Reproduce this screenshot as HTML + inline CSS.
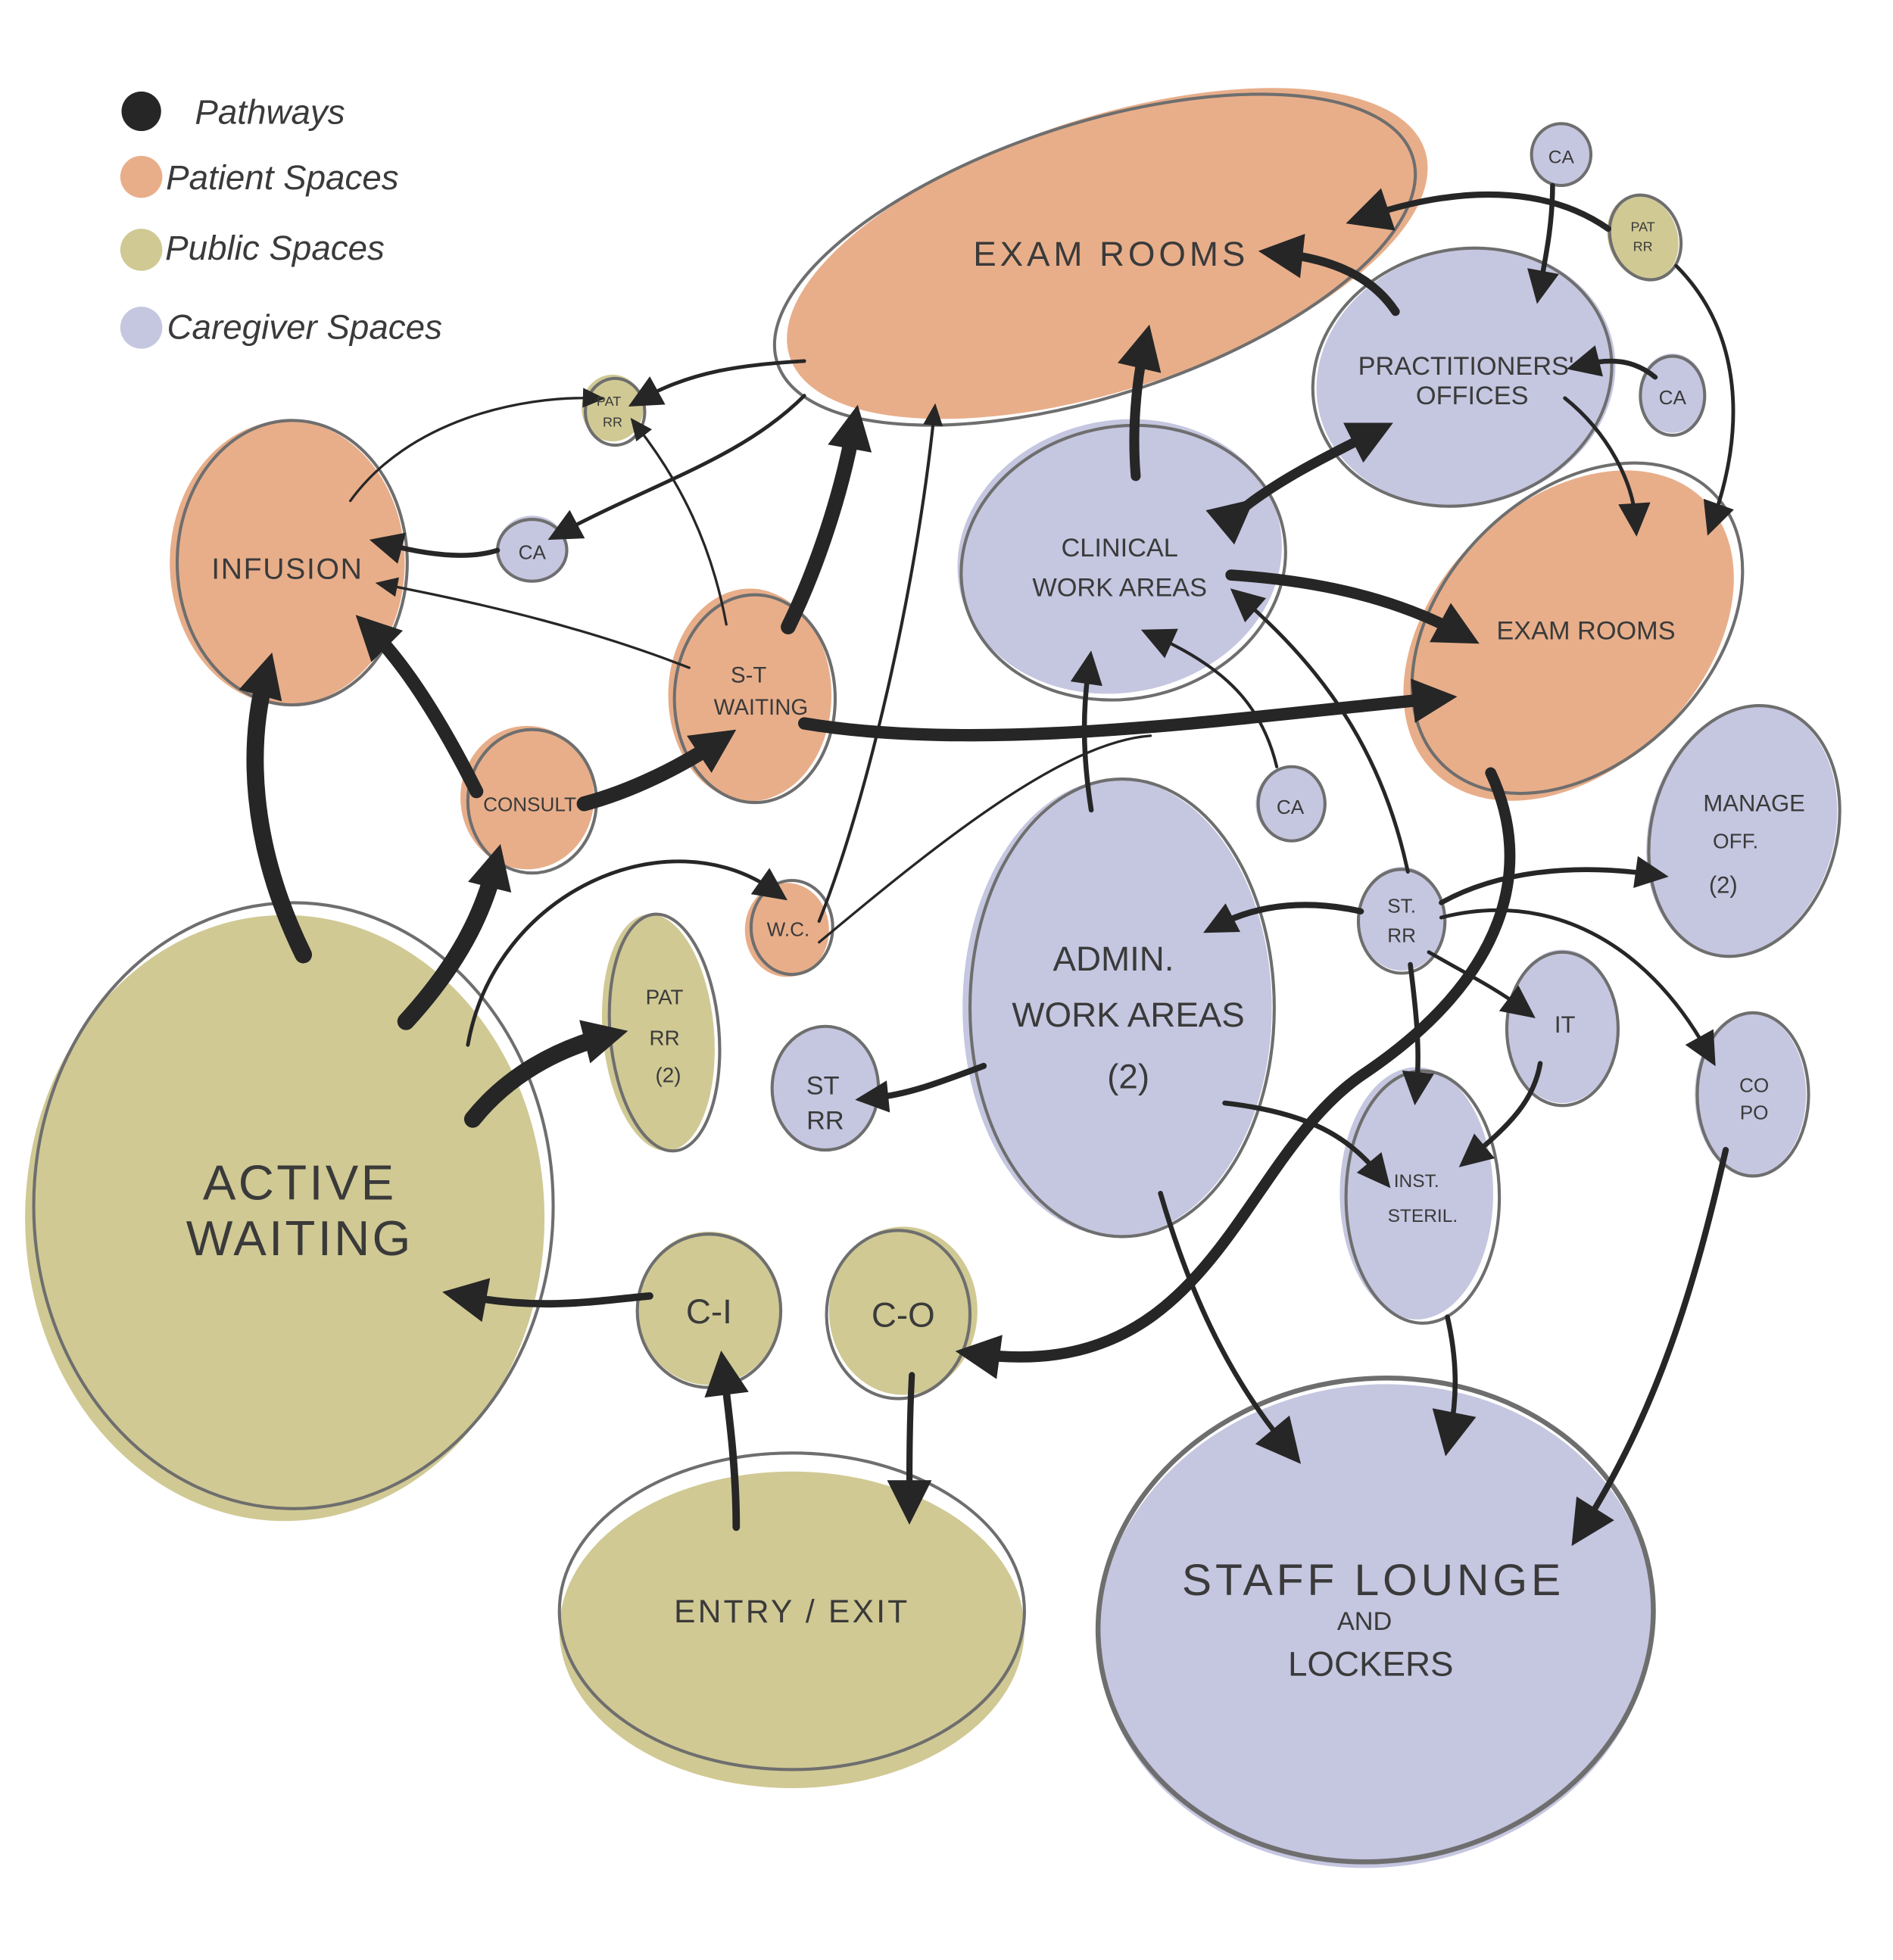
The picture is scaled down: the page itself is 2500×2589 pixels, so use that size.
<!DOCTYPE html>
<html><head><meta charset="utf-8"><style>
html,body{margin:0;padding:0;background:#fff;}
svg{display:block;}
text{font-family:"Liberation Sans",sans-serif;fill:#3a3a3a;text-anchor:middle;font-weight:300;}
</style></head><body>
<svg width="2500" height="2589" viewBox="0 0 1530 1585" xmlns="http://www.w3.org/2000/svg">
<defs>
<marker id="b" markerUnits="userSpaceOnUse" markerWidth="44" markerHeight="44" refX="22" refY="22" orient="auto"><path d="M4,4 L40,22 L4,40 Z" fill="#262626"/></marker>
<marker id="m" markerUnits="userSpaceOnUse" markerWidth="32" markerHeight="32" refX="16" refY="16" orient="auto"><path d="M3,3 L30,16 L3,29 Z" fill="#262626"/></marker>
<marker id="s" markerUnits="userSpaceOnUse" markerWidth="22" markerHeight="22" refX="11" refY="11" orient="auto"><path d="M2,3 L20,11 L2,19 Z" fill="#262626"/></marker>
</defs>
<g stroke="none">
<ellipse cx="895" cy="205" rx="270" ry="110" transform="rotate(-18 895 205)" fill="#E8AE8A"/>
<ellipse cx="232" cy="455" rx="95" ry="115" fill="#E8AE8A"/>
<ellipse cx="495" cy="330" rx="25" ry="27" fill="#D0C994"/>
<ellipse cx="430" cy="443" rx="28" ry="26" fill="#C5C6E0"/>
<ellipse cx="606" cy="562" rx="66" ry="86" fill="#E8AE8A"/>
<ellipse cx="426" cy="645" rx="54" ry="58" fill="#E8AE8A"/>
<ellipse cx="636" cy="752" rx="34" ry="38" fill="#E8AE8A"/>
<ellipse cx="230" cy="985" rx="210" ry="245" fill="#D0C994"/>
<ellipse cx="532" cy="835" rx="45" ry="96" transform="rotate(-5 532 835)" fill="#D0C994"/>
<ellipse cx="905" cy="450" rx="132" ry="110" transform="rotate(-12 905 450)" fill="#C5C6E0"/>
<ellipse cx="1185" cy="305" rx="122" ry="103" transform="rotate(-15 1185 305)" fill="#C5C6E0"/>
<ellipse cx="1262" cy="125" rx="25" ry="25" fill="#C5C6E0"/>
<ellipse cx="1328" cy="192" rx="28" ry="35" transform="rotate(-20 1328 192)" fill="#D0C994"/>
<ellipse cx="1352" cy="318" rx="27" ry="32" fill="#C5C6E0"/>
<ellipse cx="1268" cy="514" rx="155" ry="108" transform="rotate(-45 1268 514)" fill="#E8AE8A"/>
<ellipse cx="1043" cy="650" rx="28" ry="30" fill="#C5C6E0"/>
<ellipse cx="1408" cy="672" rx="75" ry="103" transform="rotate(15 1408 672)" fill="#C5C6E0"/>
<ellipse cx="903" cy="815" rx="125" ry="185" fill="#C5C6E0"/>
<ellipse cx="667" cy="880" rx="43" ry="50" fill="#C5C6E0"/>
<ellipse cx="1133" cy="743" rx="35" ry="42" fill="#C5C6E0"/>
<ellipse cx="1263" cy="830" rx="45" ry="62" fill="#C5C6E0"/>
<ellipse cx="1415" cy="885" rx="45" ry="66" fill="#C5C6E0"/>
<ellipse cx="1145" cy="965" rx="62" ry="102" fill="#C5C6E0"/>
<ellipse cx="573" cy="1058" rx="58" ry="62" fill="#D0C994"/>
<ellipse cx="730" cy="1060" rx="60" ry="68" fill="#D0C994"/>
<ellipse cx="640" cy="1318" rx="188" ry="128" fill="#D0C994"/>
<ellipse cx="1112" cy="1315" rx="225" ry="195" transform="rotate(-8 1112 1315)" fill="#C5C6E0"/>
</g>
<g fill="none" stroke="#6e6e6e" stroke-width="2.5">
<ellipse cx="885" cy="210" rx="270" ry="110" transform="rotate(-18 885 210)"/>
<ellipse cx="236" cy="455" rx="93" ry="115"/>
<ellipse cx="497" cy="333" rx="24" ry="27"/>
<ellipse cx="430" cy="445" rx="28" ry="25"/>
<ellipse cx="610" cy="565" rx="65" ry="84"/>
<ellipse cx="430" cy="648" rx="52" ry="58"/>
<ellipse cx="640" cy="750" rx="33" ry="38"/>
<ellipse cx="237" cy="975" rx="210" ry="245"/>
<ellipse cx="537" cy="835" rx="44" ry="96" transform="rotate(-5 537 835)"/>
<ellipse cx="908" cy="455" rx="132" ry="110" transform="rotate(-12 908 455)"/>
<ellipse cx="1182" cy="305" rx="122" ry="103" transform="rotate(-15 1182 305)"/>
<ellipse cx="1262" cy="125" rx="24" ry="25"/>
<ellipse cx="1330" cy="192" rx="28" ry="35" transform="rotate(-20 1330 192)"/>
<ellipse cx="1352" cy="320" rx="26" ry="32"/>
<ellipse cx="1275" cy="508" rx="155" ry="108" transform="rotate(-45 1275 508)"/>
<ellipse cx="1044" cy="650" rx="27" ry="30"/>
<ellipse cx="1410" cy="672" rx="75" ry="103" transform="rotate(15 1410 672)"/>
<ellipse cx="907" cy="815" rx="123" ry="185"/>
<ellipse cx="667" cy="880" rx="43" ry="50"/>
<ellipse cx="1133" cy="745" rx="35" ry="42"/>
<ellipse cx="1263" cy="832" rx="45" ry="62"/>
<ellipse cx="1417" cy="885" rx="45" ry="66"/>
<ellipse cx="1150" cy="968" rx="62" ry="102"/>
<ellipse cx="573" cy="1060" rx="58" ry="62"/>
<ellipse cx="726" cy="1063" rx="58" ry="68"/>
<ellipse cx="640" cy="1303" rx="188" ry="128"/>
<ellipse cx="1112" cy="1310" rx="225" ry="195" transform="rotate(-8 1112 1310)" stroke-width="4"/>
</g>
<circle cx="114" cy="90" r="16" fill="#262626"/>
<circle cx="114" cy="143" r="17" fill="#E8AE8A"/>
<circle cx="114" cy="202" r="17" fill="#D0C994"/>
<circle cx="114" cy="265" r="17" fill="#C5C6E0"/>
<g style="font-family:'Liberation Serif',serif;font-style:italic" font-size="28">
<text x="218" y="100">Pathways</text>
<text x="228" y="153">Patient Spaces</text>
<text x="222" y="210">Public Spaces</text>
<text x="246" y="274">Caregiver Spaces</text>
</g>
<g fill="none" stroke="#262626" stroke-linecap="round">
<path d="M245,772 C200,680 200,600 215,545" stroke-width="14" marker-end="url(#b)"/>
<path d="M328,826 C370,780 390,740 400,700" stroke-width="14" marker-end="url(#b)"/>
<path d="M385,640 C360,590 330,540 300,510" stroke-width="11" marker-end="url(#b)"/>
<path d="M472,650 C510,640 550,620 580,600" stroke-width="12" marker-end="url(#b)"/>
<path d="M637,507 C660,460 680,400 690,345" stroke-width="12" marker-end="url(#b)"/>
<path d="M382,905 C410,870 450,848 490,838" stroke-width="14" marker-end="url(#b)"/>
<path d="M650,585 C800,610 1000,580 1160,565" stroke-width="10" marker-end="url(#b)"/>
<path d="M995,465 C1070,470 1130,485 1180,512" stroke-width="9" marker-end="url(#b)"/>
<path d="M918,385 C915,350 918,310 925,280" stroke-width="8" marker-end="url(#b)"/>
<path d="M1000,415 C1030,390 1070,370 1110,350" stroke-width="8" marker-start="url(#b)" marker-end="url(#b)"/>
<path d="M1128,252 C1110,225 1080,210 1035,205" stroke-width="7" marker-end="url(#b)"/>
<path d="M1205,625 C1240,700 1220,790 1100,870 C1000,940 980,1120 790,1095" stroke-width="9" marker-end="url(#b)"/>
<path d="M595,1235 C595,1190 590,1150 585,1110" stroke-width="6" marker-end="url(#b)"/>
<path d="M737,1112 C735,1150 735,1185 735,1215" stroke-width="5" marker-end="url(#b)"/>
<path d="M525,1048 C480,1052 440,1060 375,1048" stroke-width="6" marker-end="url(#b)"/>
<path d="M938,965 C960,1040 990,1110 1040,1170" stroke-width="4" marker-end="url(#b)"/>
<path d="M1170,1065 C1178,1100 1178,1130 1172,1160" stroke-width="4" marker-end="url(#b)"/>
<path d="M1395,930 C1370,1040 1340,1140 1280,1235" stroke-width="5" marker-end="url(#b)"/>
<path d="M990,892 C1060,900 1090,920 1115,950" stroke-width="4" marker-end="url(#m)"/>
<path d="M795,862 C760,875 735,885 705,888" stroke-width="5" marker-end="url(#m)"/>
<path d="M882,655 C875,610 875,575 880,540" stroke-width="4" marker-end="url(#m)"/>
<path d="M1100,737 C1060,728 1020,730 985,748" stroke-width="5" marker-end="url(#m)"/>
<path d="M1165,730 C1210,705 1270,698 1335,707" stroke-width="4" marker-end="url(#m)"/>
<path d="M1165,742 C1250,720 1330,760 1380,850" stroke-width="3" marker-end="url(#m)"/>
<path d="M1155,770 C1190,790 1210,800 1230,815" stroke-width="3" marker-end="url(#m)"/>
<path d="M1140,780 C1145,820 1148,850 1145,880" stroke-width="4" marker-end="url(#m)"/>
<path d="M1245,860 C1240,890 1220,910 1190,935" stroke-width="4" marker-end="url(#m)"/>
<path d="M1138,705 C1120,620 1080,550 1005,485" stroke-width="3" marker-end="url(#m)"/>
<path d="M1032,620 C1020,570 990,540 935,515" stroke-width="2.5" marker-end="url(#m)"/>
<path d="M1255,150 C1255,180 1250,205 1245,232" stroke-width="4" marker-end="url(#m)"/>
<path d="M1300,185 C1250,150 1180,150 1105,175" stroke-width="5" marker-end="url(#b)"/>
<path d="M1355,215 C1410,270 1410,350 1385,420" stroke-width="3" marker-end="url(#m)"/>
<path d="M1338,305 C1320,290 1300,290 1280,295" stroke-width="4" marker-end="url(#m)"/>
<path d="M1265,322 C1300,350 1320,390 1322,420" stroke-width="3" marker-end="url(#m)"/>
<path d="M650,292 C600,295 560,300 520,322" stroke-width="3" marker-end="url(#m)"/>
<path d="M650,320 C600,370 530,390 455,430" stroke-width="3" marker-end="url(#m)"/>
<path d="M402,445 C380,452 350,450 312,440" stroke-width="4" marker-end="url(#m)"/>
<path d="M283,405 C330,340 420,320 480,322" stroke-width="2" marker-end="url(#s)"/>
<path d="M587,505 C575,440 550,390 515,345" stroke-width="2" marker-end="url(#s)"/>
<path d="M557,540 C480,510 400,490 312,473" stroke-width="2" marker-end="url(#s)"/>
<path d="M378,845 C400,720 540,660 625,720" stroke-width="3" marker-end="url(#m)"/>
<path d="M662,745 C700,650 740,480 755,335" stroke-width="2.5" marker-end="url(#s)"/>
<path d="M662,762 C760,680 860,600 930,595" stroke-width="2"/>
</g>
<text x="898" y="215" font-size="28" letter-spacing="3">EXAM ROOMS</text>
<text x="232" y="468" font-size="24" letter-spacing="1">INFUSION</text>
<text x="492" y="328" font-size="11">PAT</text><text x="495" y="345" font-size="11">RR</text>
<text x="430" y="452" font-size="16">CA</text>
<text x="605" y="552" font-size="18">S-T</text><text x="615" y="578" font-size="18">WAITING</text>
<text x="428" y="656" font-size="16">CONSULT</text>
<text x="637" y="757" font-size="16">W.C.</text>
<text x="242" y="970" font-size="40" letter-spacing="2">ACTIVE</text>
<text x="242" y="1015" font-size="40" letter-spacing="2">WAITING</text>
<text x="537" y="812" font-size="17">PAT</text><text x="537" y="845" font-size="17">RR</text><text x="540" y="875" font-size="17">(2)</text>
<text x="905" y="450" font-size="21">CLINICAL</text><text x="905" y="482" font-size="21">WORK AREAS</text>
<text x="1185" y="303" font-size="21">PRACTITIONERS'</text><text x="1190" y="327" font-size="21">OFFICES</text>
<text x="1262" y="132" font-size="15">CA</text>
<text x="1328" y="187" font-size="11">PAT</text><text x="1328" y="203" font-size="11">RR</text>
<text x="1352" y="327" font-size="16">CA</text>
<text x="1282" y="517" font-size="21">EXAM ROOMS</text>
<text x="1043" y="658" font-size="16">CA</text>
<text x="1418" y="656" font-size="19">MANAGE</text><text x="1403" y="686" font-size="17">OFF.</text><text x="1393" y="722" font-size="19">(2)</text>
<text x="900" y="785" font-size="28">ADMIN.</text><text x="912" y="830" font-size="28">WORK AREAS</text><text x="912" y="880" font-size="28">(2)</text>
<text x="665" y="885" font-size="21">ST</text><text x="667" y="913" font-size="21">RR</text>
<text x="1133" y="738" font-size="16">ST.</text><text x="1133" y="762" font-size="16">RR</text>
<text x="1265" y="835" font-size="19">IT</text>
<text x="1418" y="883" font-size="16">CO</text><text x="1418" y="905" font-size="16">PO</text>
<text x="1145" y="960" font-size="15">INST.</text><text x="1150" y="988" font-size="15">STERIL.</text>
<text x="573" y="1070" font-size="28">C-I</text>
<text x="730" y="1073" font-size="28">C-O</text>
<text x="640" y="1312" font-size="26" letter-spacing="2">ENTRY / EXIT</text>
<text x="1110" y="1290" font-size="36" letter-spacing="3">STAFF  LOUNGE</text>
<text x="1103" y="1318" font-size="21">AND</text>
<text x="1108" y="1355" font-size="28">LOCKERS</text>
</svg>
</body></html>
